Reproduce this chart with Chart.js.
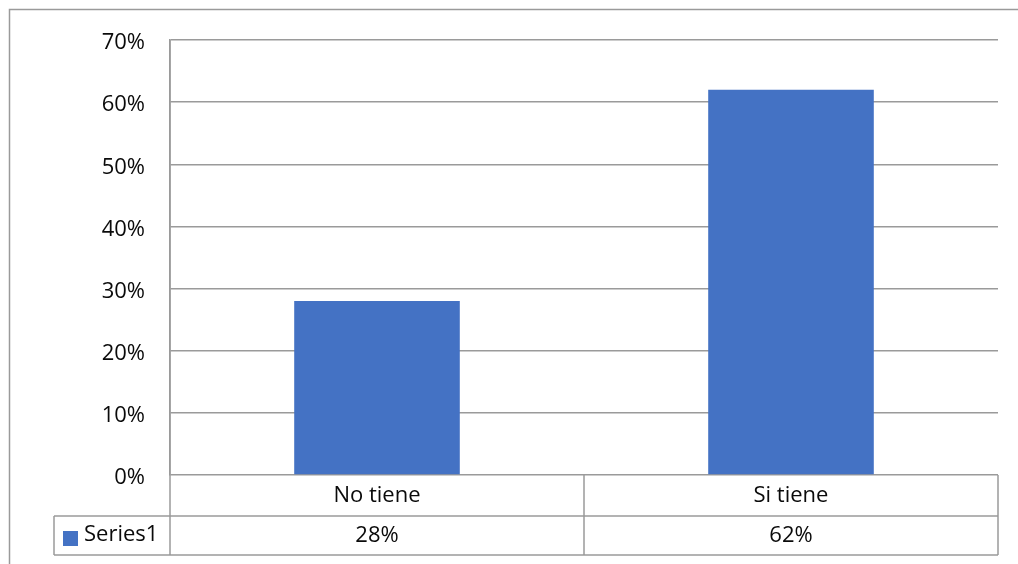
<!DOCTYPE html>
<html>
<head>
<meta charset="utf-8">
<script src="https://cdn.jsdelivr.net/npm/chart.js@4"></script>
<style>
  html, body { margin: 0; padding: 0; background: #fff; }
  #wrap { width: 1018px; height: 564px; position: relative; }
</style>
</head>
<body>
<div id="wrap"><canvas id="chart" width="1018" height="564"></canvas></div>
<script>
// data
var categories = ['No tiene', 'Si tiene'];
var seriesName = 'Series1';
var seriesValues = [28, 62];
var yMax = 70, yStep = 10;

var lineColor = '#9a9a9a';
var barColor = '#4472C4';
var font = '"Open Sans", Lato, sans-serif';

// draws the outer frame and the Excel-like data table under the plot
var tablePlugin = {
  id: 'dataTable',
  beforeDraw: function(chart) {
    var ctx = chart.ctx;
    ctx.save();
    ctx.strokeStyle = lineColor;
    ctx.lineWidth = 1.5;
    ctx.strokeRect(9.5, 9.5, 1100, 700);
    ctx.restore();
  },
  afterDraw: function(chart) {
    var ctx = chart.ctx, area = chart.chartArea, x = chart.scales.x;
    var row1 = area.bottom + 41, row2 = area.bottom + 80;
    var legendLeft = 54;
    var mid = (x.getPixelForValue(0) + x.getPixelForValue(1)) / 2;

    ctx.save();
    ctx.strokeStyle = lineColor;
    ctx.lineWidth = 1.5;
    ctx.beginPath();
    ctx.moveTo(area.left, area.top); ctx.lineTo(area.left, row2);
    ctx.moveTo(legendLeft, row1); ctx.lineTo(area.right, row1);
    ctx.moveTo(legendLeft, row2); ctx.lineTo(area.right, row2);
    ctx.moveTo(legendLeft, row1); ctx.lineTo(legendLeft, row2);
    ctx.moveTo(mid, area.bottom); ctx.lineTo(mid, row2);
    ctx.moveTo(area.right, area.bottom); ctx.lineTo(area.right, row2);
    ctx.stroke();

    ctx.fillStyle = '#0a0a0a';
    ctx.font = '22px ' + font;
    ctx.textAlign = 'center';
    ctx.textBaseline = 'middle';
    categories.forEach(function(c, i) {
      var cx = x.getPixelForValue(i);
      ctx.fillText(c, cx, (area.bottom + row1) / 2);
      ctx.fillText(seriesValues[i] + '%', cx, (row1 + row2) / 2);
    });

    // legend key in the table
    ctx.fillStyle = barColor;
    ctx.fillRect(63, 531, 15, 15);
    ctx.fillStyle = '#0a0a0a';
    ctx.textAlign = 'left';
    ctx.fillText(seriesName, 84, (row1 + row2) / 2 - 1);
    ctx.restore();
  }
};

new Chart(document.getElementById('chart'), {
  type: 'bar',
  data: {
    labels: categories,
    datasets: [{
      label: seriesName,
      data: seriesValues,
      backgroundColor: barColor,
      borderWidth: 0,
      barPercentage: 0.4,
      categoryPercentage: 1.0
    }]
  },
  options: {
    responsive: false,
    animation: false,
    events: [],
    layout: { padding: { left: 0, top: 40, right: 20, bottom: 89 } },
    plugins: { legend: { display: false }, tooltip: { enabled: false } },
    scales: {
      x: { display: false },
      y: {
        min: 0, max: yMax,
        afterFit: function(s) { s.width = 170; },
        border: { display: true, color: lineColor, width: 1.5 },
        grid: { color: lineColor, lineWidth: 1.5, drawTicks: false },
        ticks: {
          stepSize: yStep,
          padding: 25,
          labelOffset: 3,
          color: '#0a0a0a',
          font: { family: font, size: 22 },
          callback: function(v) { return v + '%'; }
        }
      }
    }
  },
  plugins: [tablePlugin]
});
</script>
</body>
</html>
